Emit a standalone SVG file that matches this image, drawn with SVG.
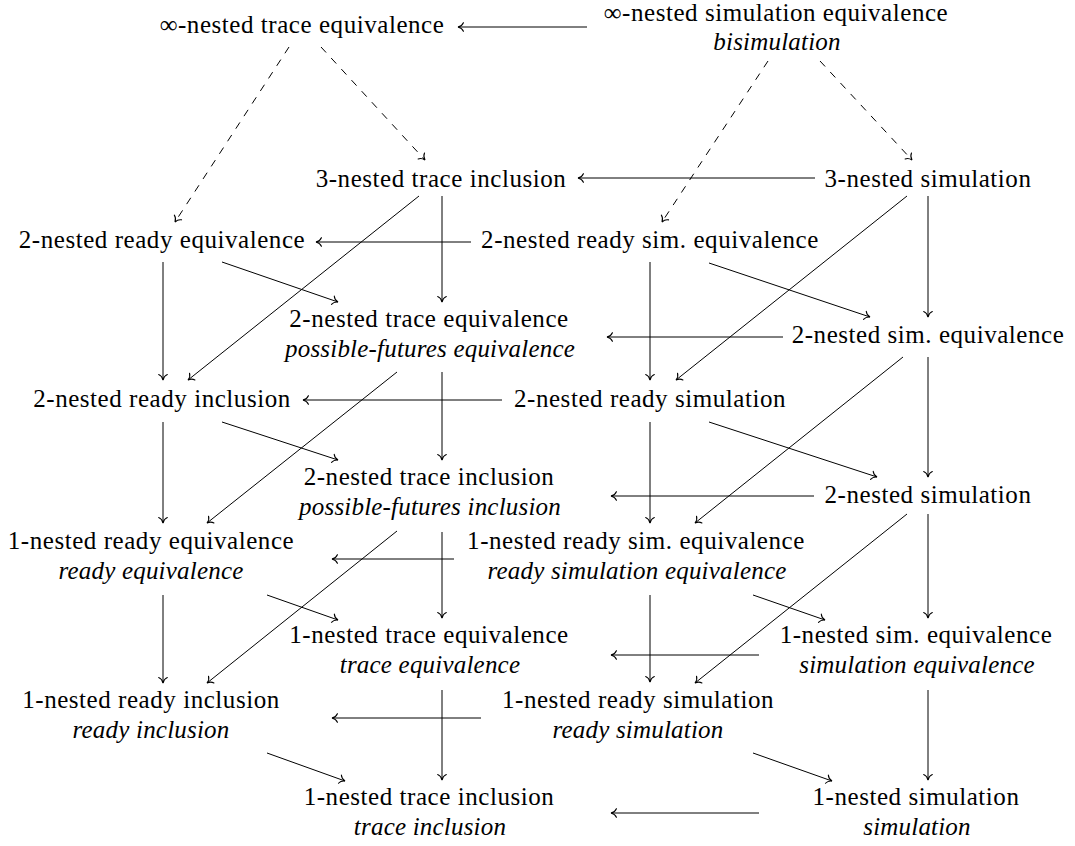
<svg xmlns="http://www.w3.org/2000/svg" width="1075" height="846" viewBox="0 0 1075 846">
<style>
  .nodes text { font-family: 'Liberation Serif', 'Times New Roman', serif; font-size: 25px; fill: #000; text-anchor: middle; }
  .r { letter-spacing: 0.55px; }
  .i { font-style: italic; letter-spacing: 0.2px; }
  .c line { stroke: #000; stroke-width: 1; fill: none; marker-end: url(#to); }
  .c .d { stroke-dasharray: 7.5 7.5; }
</style>
<defs>
  <marker id="to" markerUnits="userSpaceOnUse" markerWidth="12" markerHeight="12" refX="0" refY="0" viewBox="-6 -5 8 10" orient="auto" overflow="visible">
    <path d="M-4.5,-3.6 C-3.6,-1.3 -1.2,-0.3 0,0 C-1.2,0.3 -3.6,1.3 -4.5,3.6" fill="none" stroke="#000" stroke-width="0.9" stroke-linecap="round"/>
  </marker>
</defs>
<rect width="1075" height="846" fill="#fff"/>

<g id="connectors" class="c">
  <line class="d" x1="289" y1="47" x2="175" y2="222"/>
  <line class="d" x1="321" y1="47" x2="425" y2="160"/>
  <line class="d" x1="768" y1="61" x2="662" y2="222"/>
  <line class="d" x1="820" y1="61" x2="912" y2="160"/>
  <line x1="587" y1="27" x2="458" y2="27"/>
  <line x1="815" y1="178" x2="578" y2="178"/>
  <line x1="419" y1="196" x2="188" y2="380"/>
  <line x1="442" y1="196" x2="442" y2="302"/>
  <line x1="471" y1="242" x2="316" y2="242"/>
  <line x1="163" y1="262" x2="163" y2="380"/>
  <line x1="222" y1="262" x2="338" y2="302"/>
  <line x1="907" y1="196" x2="676" y2="380"/>
  <line x1="928" y1="196" x2="928" y2="317"/>
  <line x1="650" y1="262" x2="650" y2="380"/>
  <line x1="709" y1="263" x2="870" y2="317"/>
  <line x1="783" y1="337" x2="607" y2="337"/>
  <line x1="397" y1="372" x2="207" y2="523"/>
  <line x1="442" y1="372" x2="442" y2="460"/>
  <line x1="502" y1="400" x2="303" y2="400"/>
  <line x1="163" y1="422" x2="163" y2="523"/>
  <line x1="222" y1="422" x2="338" y2="460"/>
  <line x1="903" y1="357" x2="695" y2="523"/>
  <line x1="928" y1="357" x2="928" y2="477"/>
  <line x1="650" y1="422" x2="650" y2="523"/>
  <line x1="709" y1="422" x2="877" y2="477"/>
  <line x1="814" y1="496" x2="611" y2="496"/>
  <line x1="397" y1="531" x2="207" y2="683"/>
  <line x1="442" y1="532" x2="442" y2="618"/>
  <line x1="454" y1="559" x2="332" y2="559"/>
  <line x1="163" y1="595" x2="163" y2="683"/>
  <line x1="267" y1="595" x2="338" y2="620"/>
  <line x1="907" y1="514" x2="695" y2="683"/>
  <line x1="928" y1="514" x2="928" y2="618"/>
  <line x1="650" y1="595" x2="650" y2="682"/>
  <line x1="753" y1="595" x2="825" y2="620"/>
  <line x1="759" y1="655" x2="611" y2="655"/>
  <line x1="442" y1="690" x2="442" y2="780"/>
  <line x1="481" y1="718" x2="332" y2="718"/>
  <line x1="267" y1="753" x2="345" y2="781"/>
  <line x1="928" y1="690" x2="928" y2="780"/>
  <line x1="753" y1="753" x2="832" y2="781"/>
  <line x1="759" y1="813" x2="611" y2="813"/>
</g>

<g class="nodes">
<g id="inf-trace-eq"><text class="r" x="302" y="33">∞-nested trace equivalence</text></g>
<g id="inf-sim-eq"><text class="r" x="776" y="21">∞-nested simulation equivalence</text><text class="i" x="777" y="50">bisimulation</text></g>
<g id="n3-trace-incl"><text class="r" x="441" y="187">3-nested trace inclusion</text></g>
<g id="n3-sim"><text class="r" x="928" y="187">3-nested simulation</text></g>
<g id="n2-ready-eq"><text class="r" x="162" y="248">2-nested ready equivalence</text></g>
<g id="n2-ready-sim-eq"><text class="r" x="650" y="248">2-nested ready sim. equivalence</text></g>
<g id="n2-trace-eq"><text class="r" x="429" y="327">2-nested trace equivalence</text><text class="i" x="430" y="357">possible-futures equivalence</text></g>
<g id="n2-sim-eq"><text class="r" x="928" y="343">2-nested sim. equivalence</text></g>
<g id="n2-ready-incl"><text class="r" x="162" y="407">2-nested ready inclusion</text></g>
<g id="n2-ready-sim"><text class="r" x="650" y="407">2-nested ready simulation</text></g>
<g id="n2-trace-incl"><text class="r" x="429" y="485">2-nested trace inclusion</text><text class="i" x="430" y="515">possible-futures inclusion</text></g>
<g id="n2-sim"><text class="r" x="928" y="503">2-nested simulation</text></g>
<g id="n1-ready-eq"><text class="r" x="151" y="549">1-nested ready equivalence</text><text class="i" x="151" y="579">ready equivalence</text></g>
<g id="n1-ready-sim-eq"><text class="r" x="636" y="549">1-nested ready sim. equivalence</text><text class="i" x="637" y="579">ready simulation equivalence</text></g>
<g id="n1-trace-eq"><text class="r" x="429" y="643">1-nested trace equivalence</text><text class="i" x="430" y="673">trace equivalence</text></g>
<g id="n1-sim-eq"><text class="r" x="916" y="643">1-nested sim. equivalence</text><text class="i" x="917" y="673">simulation equivalence</text></g>
<g id="n1-ready-incl"><text class="r" x="151" y="708">1-nested ready inclusion</text><text class="i" x="151" y="738">ready inclusion</text></g>
<g id="n1-ready-sim"><text class="r" x="638" y="708">1-nested ready simulation</text><text class="i" x="638" y="738">ready simulation</text></g>
<g id="n1-trace-incl"><text class="r" x="429" y="805">1-nested trace inclusion</text><text class="i" x="430" y="835">trace inclusion</text></g>
<g id="n1-sim"><text class="r" x="916" y="805">1-nested simulation</text><text class="i" x="917" y="835">simulation</text></g>
</g>
</svg>
